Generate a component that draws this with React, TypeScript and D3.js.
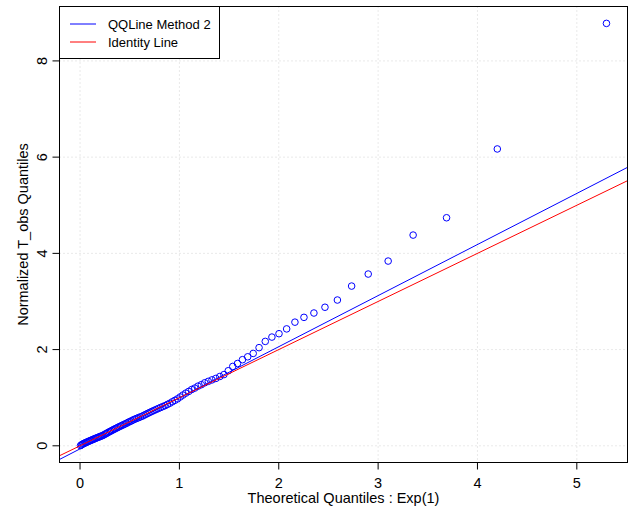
import React from "react";
import * as d3 from "d3";

// Theoretical Exp(1) quantiles for n = 100 plotting positions
const theoretical: number[] = [
  0.00501, 0.01511, 0.02532, 0.03563, 0.04604, 0.05657, 0.06721, 0.07796, 0.08883, 0.09982,
  0.11093, 0.12217, 0.13353, 0.14503, 0.15665, 0.16842, 0.18032, 0.19237, 0.20457, 0.21691,
  0.22941, 0.24207, 0.25489, 0.26788, 0.28104, 0.29437, 0.30788, 0.32158, 0.33547, 0.34956,
  0.36384, 0.37834, 0.39304, 0.40797, 0.42312, 0.4385, 0.45413, 0.47, 0.48613, 0.50253,
  0.51919, 0.53614, 0.55339, 0.57093, 0.58879, 0.60697, 0.62549, 0.64436, 0.66359, 0.6832,
  0.7032, 0.72361, 0.74444, 0.76572, 0.78746, 0.80968, 0.83241, 0.85567, 0.87948, 0.90387,
  0.92887, 0.95451, 0.98083, 1.00786, 1.03564, 1.06421, 1.09362, 1.12393, 1.15518, 1.18744,
  1.22078, 1.25527, 1.29098, 1.32803, 1.36649, 1.4065, 1.44817, 1.49165, 1.53711, 1.58475,
  1.63476, 1.6874, 1.74297, 1.80181, 1.86433, 1.93102, 2.00248, 2.07944, 2.16282, 2.25379,
  2.35388, 2.4651, 2.59027, 2.73337, 2.90042, 3.10109, 3.35241, 3.68888, 4.19971, 5.29832,
];

// Sorted normalized T_obs values
const observed: number[] = [
  0.004, 0.02, 0.035, 0.045, 0.055, 0.065, 0.075, 0.085, 0.095, 0.105,
  0.115, 0.125, 0.135, 0.145, 0.155, 0.165, 0.175, 0.185, 0.195, 0.205,
  0.215, 0.23, 0.245, 0.26, 0.275, 0.29, 0.305, 0.32, 0.335, 0.35,
  0.365, 0.38, 0.395, 0.41, 0.425, 0.44, 0.455, 0.47, 0.49, 0.505,
  0.52, 0.54, 0.555, 0.57, 0.585, 0.6, 0.615, 0.635, 0.655, 0.675,
  0.695, 0.715, 0.735, 0.755, 0.775, 0.795, 0.815, 0.835, 0.86, 0.885,
  0.915, 0.945, 0.975, 1.015, 1.055, 1.095, 1.13, 1.17, 1.2, 1.24,
  1.27, 1.31, 1.34, 1.37, 1.4, 1.44, 1.48, 1.56, 1.65, 1.71,
  1.79, 1.85, 1.92, 2.04, 2.17, 2.26, 2.33, 2.43, 2.57, 2.67,
  2.76, 2.88, 3.03, 3.32, 3.57, 3.84, 4.38, 4.74, 6.17, 8.78,
];

const xTicks: number[] = [0, 1, 2, 3, 4, 5];
const yTicks: number[] = [0, 2, 4, 6, 8];

// Reference lines: fitted QQ line and the identity line
const qqLine = { intercept: -0.064, slope: 1.062 };
const identityLine = { intercept: 0, slope: 1 };

const legendItems = [
  { label: "QQLine Method 2", color: "#0000FF" },
  { label: "Identity Line", color: "#FF0000" },
];

const W = 629;
const H = 512;
const plot = { left: 59.5, right: 627.5, top: 6.5, bottom: 462.5 };
const FONT = "'Liberation Sans', Arial, Helvetica, sans-serif";
const FS = 14.5;
const LEGEND_FS = 13;

// R-style axis limits: data range extended by 4% on each side
function padded(values: number[]): [number, number] {
  const [lo, hi] = d3.extent(values) as [number, number];
  const pad = (hi - lo) * 0.04;
  return [lo - pad, hi + pad];
}

export default function App() {
  const x = d3.scaleLinear().domain(padded(theoretical)).range([plot.left, plot.right]);
  const y = d3.scaleLinear().domain(padded(observed)).range([plot.bottom, plot.top]);
  const [x0, x1] = x.domain();

  const ablinePath = (l: { intercept: number; slope: number }) =>
    d3.line<number>()
      .x((v) => x(v))
      .y((v) => y(l.intercept + l.slope * v))([x0, x1]) as string;

  const tickLen = 7;

  return (
    <svg
      width={W}
      height={H}
      viewBox={`0 0 ${W} ${H}`}
      style={{ position: "absolute", left: 0, top: 0, background: "#fff" }}
      fontFamily={FONT}
    >
      <defs>
        <clipPath id="plot-region">
          <rect x={plot.left} y={plot.top} width={plot.right - plot.left} height={plot.bottom - plot.top} />
        </clipPath>
      </defs>
      <rect x={0} y={0} width={W} height={H} fill="#fff" />

      {/* dotted grid */}
      <g stroke="#D3D3D3" strokeWidth={1} strokeDasharray="1 3">
        {xTicks.map((t) => (
          <line key={`gx${t}`} x1={x(t)} x2={x(t)} y1={plot.top} y2={plot.bottom} />
        ))}
        {yTicks.map((t) => (
          <line key={`gy${t}`} x1={plot.left} x2={plot.right} y1={y(t)} y2={y(t)} />
        ))}
      </g>

      <g clipPath="url(#plot-region)">
        {/* sample quantiles */}
        <g fill="none" stroke="#0000FF" strokeWidth={1}>
          {theoretical.map((tq, i) => (
            <circle key={i} cx={x(tq)} cy={y(observed[i])} r={3.3} />
          ))}
        </g>
        <path d={ablinePath(qqLine)} stroke="#0000FF" strokeWidth={1} fill="none" />
        <path d={ablinePath(identityLine)} stroke="#FF0000" strokeWidth={1} fill="none" />
      </g>

      {/* plot frame */}
      <rect
        x={plot.left}
        y={plot.top}
        width={plot.right - plot.left}
        height={plot.bottom - plot.top}
        fill="none"
        stroke="#000"
        strokeWidth={1}
      />

      {/* x axis */}
      <g stroke="#000" strokeWidth={1}>
        <line x1={x(xTicks[0])} x2={x(xTicks[xTicks.length - 1])} y1={plot.bottom} y2={plot.bottom} />
        {xTicks.map((t) => (
          <line key={`tx${t}`} x1={x(t)} x2={x(t)} y1={plot.bottom} y2={plot.bottom + tickLen} />
        ))}
      </g>
      <g fontSize={FS} fill="#000" textAnchor="middle">
        {xTicks.map((t) => (
          <text key={`lx${t}`} x={x(t)} y={487.5}>
            {t}
          </text>
        ))}
        <text x={(plot.left + plot.right) / 2} y={502.5}>
          Theoretical Quantiles : Exp(1)
        </text>
      </g>

      {/* y axis */}
      <g stroke="#000" strokeWidth={1}>
        <line x1={plot.left} x2={plot.left} y1={y(yTicks[0])} y2={y(yTicks[yTicks.length - 1])} />
        {yTicks.map((t) => (
          <line key={`ty${t}`} x1={plot.left - tickLen} x2={plot.left} y1={y(t)} y2={y(t)} />
        ))}
      </g>
      <g fontSize={FS} fill="#000" textAnchor="middle">
        {yTicks.map((t) => (
          <text key={`ly${t}`} transform={`translate(46.5,${y(t)}) rotate(-90)`}>
            {t}
          </text>
        ))}
        <text transform={`translate(27.5,${(plot.top + plot.bottom) / 2}) rotate(-90)`}>
          Normalized T_obs Quantiles
        </text>
      </g>

      {/* legend */}
      <g>
        <rect x={plot.left} y={plot.top} width={160} height={52} fill="#fff" stroke="#000" strokeWidth={1} />
        {legendItems.map((item, i) => (
          <g key={item.label}>
            <line
              x1={70}
              x2={96}
              y1={24 + i * 18}
              y2={24 + i * 18}
              stroke={item.color}
              strokeWidth={1}
            />
            <text x={108} y={24 + i * 18} dy="0.35em" fontSize={LEGEND_FS} fill="#000">
              {item.label}
            </text>
          </g>
        ))}
      </g>
    </svg>
  );
}
